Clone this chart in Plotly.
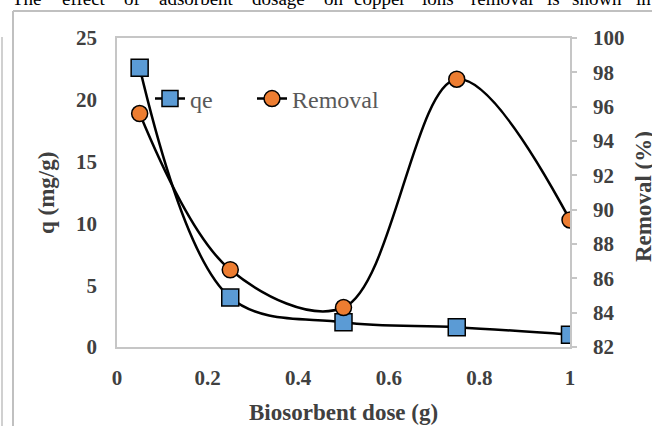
import plotly.graph_objects as go

dose = [0.05, 0.25, 0.5, 0.75, 1.0]
qe = [22.6, 4.0, 2.0, 1.6, 1.0]
removal = [95.6, 86.5, 84.3, 97.6, 89.4]

x_ticks = [0, 0.2, 0.4, 0.6, 0.8, 1]
y_ticks = [0, 5, 10, 15, 20, 25]
y2_ticks = list(range(82, 101, 2))

caption_words = ["The", "effect", "of", "adsorbent", "dosage", "on", "copper",
                 "ions", "removal", "is", "shown", "in"]
caption_x = [10, 60, 122, 157, 250, 322, 352, 420, 469, 545, 570, 634]

W, H = 652, 426
L, R, T, B = 117, 82, 38, 79
pw, ph = W - L - R, H - T - B

def px(x):
    return (x - L) / pw

def py(y):
    return (H - B - y) / ph

tick_font = dict(family="Liberation Serif", size=21, color="#404040", weight="bold")
title_font = dict(family="Liberation Serif", size=23, color="#404040", weight="bold")
frame = "#c6c6c6"

fig = go.Figure()
fig.add_trace(go.Scatter(
    x=dose, y=qe, name="qe", mode="lines+markers", legend="legend",
    line=dict(color="black", width=2.5, shape="spline", smoothing=1.0),
    marker=dict(symbol="square", size=17, color="#5B9BD5",
                line=dict(color="black", width=1.5)),
))
fig.add_trace(go.Scatter(
    x=dose, y=removal, name="Removal", mode="lines+markers", yaxis="y2", legend="legend2",
    line=dict(color="black", width=2.5, shape="spline", smoothing=1.0),
    marker=dict(symbol="circle", size=16, color="#ED7D31",
                line=dict(color="black", width=1.5)),
))

annotations = []
for w, xp in zip(caption_words, caption_x):
    annotations.append(dict(text=w, x=px(xp), y=py(11), xref="paper", yref="paper",
                            xanchor="left", yanchor="bottom", showarrow=False,
                            font=dict(family="Liberation Serif", size=19, color="black")))
annotations.append(dict(text="q (mg/g)", x=px(47), y=py(193), xref="paper", yref="paper",
                        xanchor="center", yanchor="middle",
                        textangle=-90, showarrow=False, font=title_font))
annotations.append(dict(text="Removal (%)", x=px(643), y=py(197), xref="paper", yref="paper",
                        xanchor="center", yanchor="middle",
                        textangle=-90, showarrow=False, font=title_font))
annotations.append(dict(text="Biosorbent dose (g)", x=px(343), y=py(412), xref="paper", yref="paper",
                        xanchor="center", yanchor="middle",
                        showarrow=False, font=title_font))

shapes = [
    dict(type="line", xref="paper", yref="paper", x0=px(13), x1=px(660), y0=py(11), y1=py(11),
         line=dict(color="#c0c0c0", width=2)),
    dict(type="line", xref="paper", yref="paper", x0=px(13), x1=px(13), y0=py(11), y1=py(440),
         line=dict(color="#c0c0c0", width=2)),
    dict(type="line", xref="paper", yref="paper", x0=px(2), x1=px(2), y0=py(37), y1=py(440),
         line=dict(color="#c0c0c0", width=1.5)),
]

legend_font = dict(family="Liberation Serif", size=24, color="#595959")

fig.update_layout(
    width=W, height=H,
    margin=dict(l=L, r=R, t=T, b=B),
    paper_bgcolor="white", plot_bgcolor="white",
    showlegend=True,
    legend=dict(orientation="h", x=px(150), y=py(99), xanchor="left", yanchor="middle",
                font=legend_font, bgcolor="rgba(0,0,0,0)"),
    legend2=dict(orientation="h", x=px(252), y=py(99), xanchor="left", yanchor="middle",
                 font=legend_font, bgcolor="rgba(0,0,0,0)"),
    xaxis=dict(range=[0, 1], tickvals=x_ticks, ticks="", showgrid=False, zeroline=False,
               showline=True, linecolor=frame, linewidth=1.5, mirror=True,
               tickfont=tick_font, ticklabelstandoff=11),
    yaxis=dict(range=[0, 25], tickvals=y_ticks, ticks="", showgrid=False, zeroline=False,
               showline=True, linecolor=frame, linewidth=1.5,
               tickfont=tick_font, ticklabelstandoff=14),
    yaxis2=dict(range=[82, 100], tickvals=y2_ticks, overlaying="y", side="right",
                ticks="outside", ticklen=5, tickcolor=frame, tickwidth=1.5,
                showgrid=False, zeroline=False, showline=True, linecolor=frame, linewidth=1.5,
                tickfont=tick_font, ticklabelstandoff=12),
    annotations=annotations,
    shapes=shapes,
)

fig.write_html("out.html", config={"displayModeBar": False},
               post_script="document.body.style.margin='0px';")
